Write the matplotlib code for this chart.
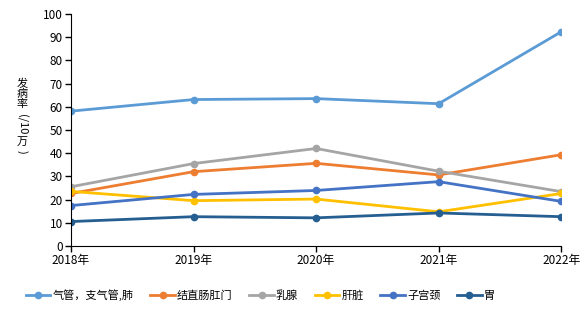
import matplotlib
matplotlib.use('Agg')
import matplotlib.pyplot as plt

plt.rcParams['font.family'] = ['Noto Sans CJK SC', 'DejaVu Sans']

years = ['2018年', '2019年', '2020年', '2021年', '2022年']
names = ['气管，支气管,肺', '结直肠肛门', '乳腺', '肝脏', '子宫颈', '胃']
lung = [58.1, 63.1, 63.5, 61.3, 92.3]
colorectal = [22.6, 32.0, 35.6, 30.6, 39.3]
breast = [25.5, 35.5, 42.0, 32.2, 23.4]
liver = [23.5, 19.5, 20.2, 14.7, 22.6]
cervix = [17.4, 22.2, 23.9, 27.7, 19.2]
stomach = [10.5, 12.6, 12.1, 14.2, 12.6]
colors = ['#5B9BD5', '#ED7D31', '#A5A5A5', '#FFC000', '#4472C4', '#255E91']

series = [lung, colorectal, breast, liver, cervix, stomach]

fig = plt.figure(figsize=(5.87, 3.24), dpi=100)
ax = fig.add_axes([0.121, 0.241, 0.835, 0.716])

x = list(range(len(years)))
for s, name, c in zip(series, names, colors):
    ax.plot(x, s, color=c, lw=2, marker='o', ms=4.5, label=name)

ax.set_xlim(0, 4)
ax.set_ylim(0, 100)
ax.set_yticks(range(0, 101, 10))
ax.set_xticks(x)
ax.set_xticklabels(years)
ax.tick_params(axis='both', direction='out', length=4, width=1, labelsize=8.5, pad=2)
ax.spines['top'].set_visible(False)
ax.spines['right'].set_visible(False)

# 竖排的纵轴标题
parts = [('发', 0, 84), ('病', 0, 94), ('率', 0, 104), ('(/10', -90, 124),
         ('万', 0, 142), (')', -90, 152)]
for t, rot, py in parts:
    fig.text(22 / 587, 1 - py / 324, t, rotation=rot, rotation_mode='anchor',
             ha='center', va='center', fontsize=8)

ax.legend(loc='center left', bbox_to_anchor=(26 / 587, 1 - 295 / 324),
          bbox_transform=fig.transFigure, ncol=6, frameon=False, fontsize=8,
          handlelength=2.2, handletextpad=0.2, columnspacing=1.5, borderaxespad=0,
          borderpad=0)

fig.savefig('out.png', dpi=100)
